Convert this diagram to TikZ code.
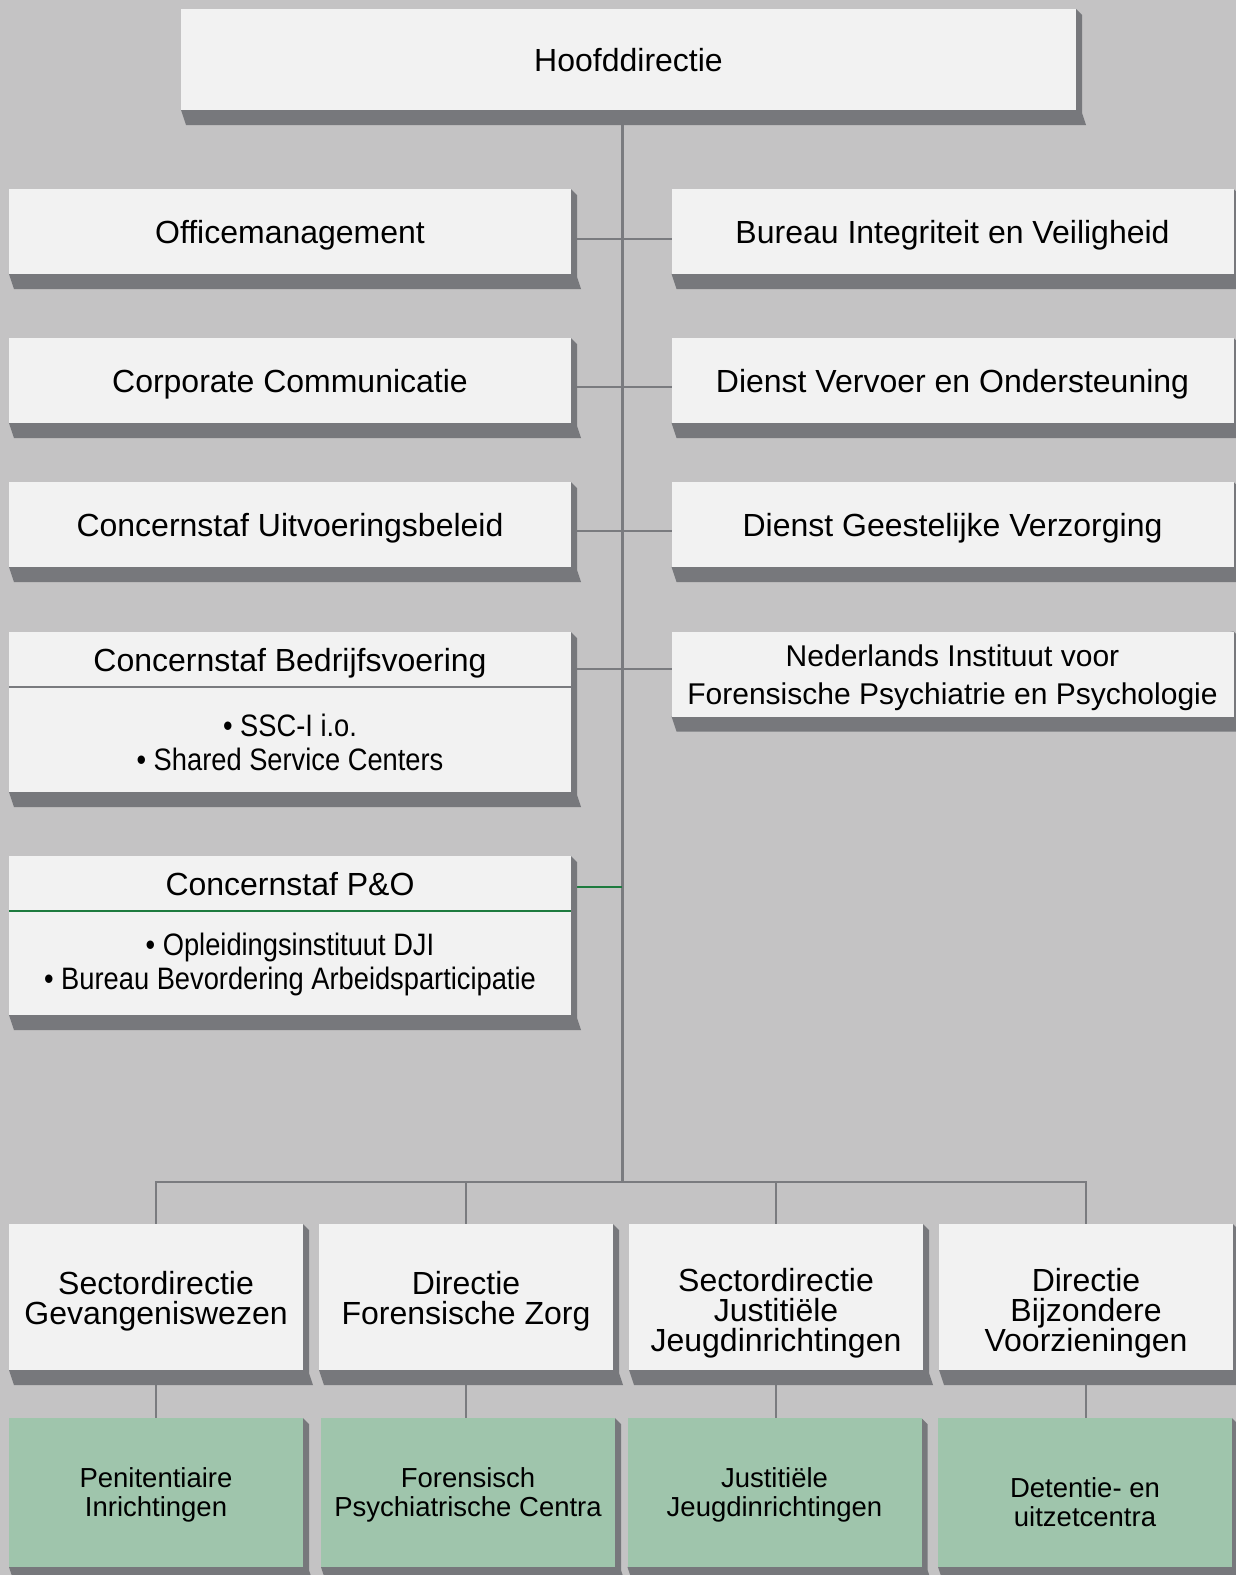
\documentclass[tikz,border=0pt]{standalone}
\usepackage{fontspec}
\setmainfont{Liberation Sans}
\newfontfamily\narrowfont[FakeStretch=0.88]{Liberation Sans}
\usetikzlibrary{positioning,calc}
\definecolor{canvas}{HTML}{C4C3C4}
\definecolor{panel}{HTML}{F2F2F2}
\definecolor{shadegray}{HTML}{77787C}
\definecolor{linkgray}{HTML}{7A7B7F}
\definecolor{sagegreen}{HTML}{9FC5AC}
\definecolor{darkgreen}{HTML}{1E7B3F}
\pgfdeclarelayer{back}
\pgfdeclarelayer{lines}
\pgfdeclarelayer{shades}
\pgfsetlayers{back,lines,shades,main}
\newcommand{\dropshade}[2]{%
  \begin{pgfonlayer}{shades}
  \fill[shadegray] (#2.south west) -- ++(5,15) -- ($(#2.south east)+(10,15)$) -- ($(#2.south east)+(6,3)$) -- ($(#1.north east)+(6,6)$) -- (#1.north east) -- cycle;
  \end{pgfonlayer}}

\begin{document}
\begin{tikzpicture}[x=1pt, y=-1pt,
  unit/.style={rectangle, fill=panel, inner sep=0pt, outer sep=0pt, align=center, font=\fontsize{32}{34}\selectfont},
  oneline/.style={unit, text height=23pt, text depth=0pt},
  staff/.style={oneline, minimum width=562pt, minimum height=85pt},
  staffhead/.style={oneline, minimum width=562pt, minimum height=55pt},
  staffbody/.style={unit, minimum width=562pt, font=\narrowfont\fontsize{31}{34}\selectfont},
  sector/.style={unit, minimum width=294pt, minimum height=146pt, text height=62pt, font=\fontsize{32}{30}\selectfont},
  tall/.style={text height=116pt},
  inst/.style={unit, fill=sagegreen, minimum width=294pt, minimum height=149pt, text height=53pt, font=\fontsize{27.5}{29}\selectfont},
  link/.style={linkgray, line width=2.5pt},
  spineline/.style={linkgray, line width=3pt},
  pogreen/.style={darkgreen, line width=2.5pt}
]
  \useasboundingbox (0,0) rectangle (1236,1575);
  \begin{pgfonlayer}{back}
    \fill[canvas] (0,0) rectangle (1236,1575);
  \end{pgfonlayer}

  \node[oneline, minimum width=895pt, minimum height=101pt] (hd) at (628.5,59.5) {Hoofddirectie};

  \node[staff] (om) at (290,231.5) {Officemanagement};
  \node[staff] (biv) at (952.5,231.5) {Bureau Integriteit en Veiligheid};
  \node[staff] (cc) at (290,380.5) {Corporate Communicatie};
  \node[staff] (dvo) at (952.5,380.5) {Dienst Vervoer en Ondersteuning};
  \node[staff] (cub) at (290,524.5) {Concernstaf Uitvoeringsbeleid};
  \node[staff] (dgv) at (952.5,524.5) {Dienst Geestelijke Verzorging};
  \node[staffhead] (cbf) at (290,659.5) {Concernstaf Bedrijfsvoering};
  \node[staffbody, minimum height=105pt, text height=63pt, below=0pt of cbf] (cbfsub) {\textbullet\ SSC-I i.o.\\ \textbullet\ Shared Service Centers};
  \node[unit, minimum width=562pt, minimum height=85pt, text height=68pt, font=\fontsize{30}{38}\selectfont] (nifp) at (952.5,674) {Nederlands Instituut voor\\Forensische Psychiatrie en Psychologie};
  \node[staffhead] (cpo) at (290,883.5) {Concernstaf P\&O};
  \node[staffbody, minimum height=104pt, text height=58.5pt, below=0pt of cpo] (cposub) {\textbullet\ Opleidingsinstituut DJI\\ \textbullet\ Bureau Bevordering Arbeidsparticipatie};

  \node[sector] (sgw) at (156,1297) {Sectordirectie\\Gevangeniswezen};
  \node[sector] (dfz) at (466,1297) {Directie\\Forensische Zorg};
  \node[sector, tall] (sjj) at (776,1297) {Sectordirectie\\Justitiële\\Jeugdinrichtingen};
  \node[sector, tall] (dbv) at (1086,1297) {Directie\\Bijzondere\\Voorzieningen};

  \node[inst] (pi) at (156,1492.5) {Penitentiaire\\Inrichtingen};
  \node[inst] (fpc) at (468,1492.5) {Forensisch\\Psychiatrische Centra};
  \node[inst] (jji) at (774.5,1492.5) {Justitiële\\Jeugdinrichtingen};
  \node[inst, text height=69pt] (duc) at (1085,1492.5) {Detentie- en\\uitzetcentra};

  \draw[linkgray, line width=2.5pt] (cbf.south west) -- (cbf.south east);
  \draw[darkgreen, line width=1.5pt] (cpo.south west) -- (cpo.south east);

  \foreach \t/\b in {hd/hd, om/om, biv/biv, cc/cc, dvo/dvo, cub/cub, dgv/dgv, cbf/cbfsub, nifp/nifp, cpo/cposub, sgw/sgw, dfz/dfz, sjj/sjj, dbv/dbv, pi/pi, fpc/fpc, jji/jji, duc/duc}
    \dropshade{\t}{\b};

  \begin{pgfonlayer}{lines}
    \coordinate (bus) at (622,1182);
    \draw[spineline] (hd.south -| bus) -- (bus);
    \draw[link] ([yshift=-7.5pt]om.east) -- ([yshift=-7.5pt]biv.west);
    \draw[link] ([yshift=-6.5pt]cc.east) -- ([yshift=-6.5pt]dvo.west);
    \draw[link] ([yshift=-6.5pt]cub.east) -- ([yshift=-6.5pt]dgv.west);
    \draw[link] ([yshift=-9.5pt]cbf.east) -- ([yshift=5pt]nifp.west);
    \draw[pogreen] ([yshift=-3.5pt]cpo.east) -- ([yshift=-3.5pt]cpo.east -| bus);
    \draw[link] (sgw.north) -- (sgw.north |- bus) -- (dbv.north |- bus) -- (dbv.north);
    \draw[link] (dfz.north) -- (dfz.north |- bus);
    \draw[link] (sjj.north) -- (sjj.north |- bus);
    \foreach \a/\b in {sgw/pi, dfz/fpc, sjj/jji, dbv/duc}
      \draw[link] (\a.south) -- (\a.south |- \b.north);
  \end{pgfonlayer}
\end{tikzpicture}
\end{document}
